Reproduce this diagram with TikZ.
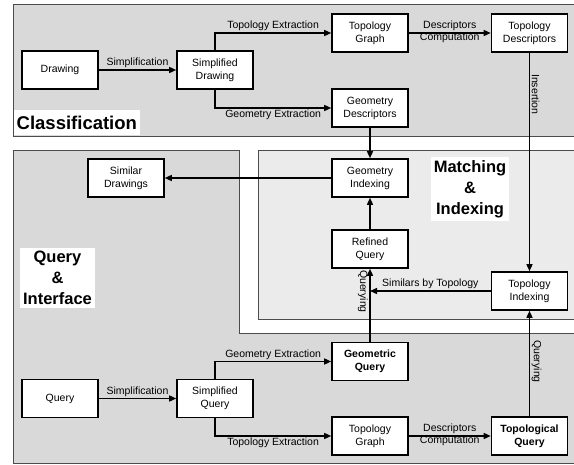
\documentclass[tikz,border=0pt]{standalone}
\usepackage{fontspec}
\setmainfont{Liberation Sans}
\usetikzlibrary{arrows.meta}

\definecolor{panelgray}{HTML}{D9D9D9}
\definecolor{matchgray}{HTML}{EBEBEB}

\begin{document}
\begin{tikzpicture}[x=1pt, y=-1pt,
    main/.style = {draw, line width=1.6pt, fill=white, minimum width=76pt, minimum height=38pt, inner sep=1pt, align=center, font=\fontsize{10.5}{13}\selectfont},
    strong/.style = {main, font=\fontsize{10.5}{13}\selectfont\bfseries},
    link/.style = {line width=1.4pt, -{Triangle[length=7pt,width=6pt]}},
    lab/.style = {inner sep=1.5pt, font=\fontsize{10.5}{12}\selectfont},
    title/.style = {fill=white, inner sep=3pt, align=center, font=\fontsize{16.5}{21}\selectfont\bfseries},
    panel/.style = {draw=black!70, line width=0.8pt}]

    \useasboundingbox (0,0) rectangle (574,465);

    \draw[panel, fill=panelgray] (13,4) rectangle (590,136);
    \draw[panel, fill=panelgray] (13,150) rectangle (590,463);
    \fill[white] (239,149) rectangle (590,333);
    \draw[panel] (239,150) -- (239,333) -- (590,333);
    \draw[panel, fill=matchgray] (258,150) rectangle (590,319);

    \node[title, font=\fontsize{18.5}{21}\selectfont\bfseries, minimum height=25pt, anchor=south west] (cls) at (13.5,135.5) {Classification};
    \node[title] (qif) at (57.5,278) {Query\\\&\\Interface};
    \node[title] (mix) at (470,189) {Matching\\\&\\Indexing};

    \node[main] (drw) at (60,70) {Drawing};
    \node[main] (sdrw) at (215,70) {Simplified\\Drawing};
    \node[main] (tgr) at (370,33) {Topology\\Graph};
    \node[main] (tdesc) at (529.5,33) {Topology\\Descriptors};
    \node[main] (gdesc) at (370,108) {Geometry\\Descriptors};

    \node[main] (simd) at (126,178) {Similar\\Drawings};
    \node[main] (gidx) at (370,178) {Geometry\\Indexing};
    \node[main] (rq) at (370,249) {Refined\\Query};
    \node[main] (tidx) at (529.5,291) {Topology\\Indexing};

    \node[main] (qry) at (60,398.5) {Query};
    \node[main] (sqry) at (215,398.5) {Simplified\\Query};
    \node[strong] (gq) at (370,361.5) {Geometric\\Query};
    \node[main] (tgr2) at (370,436) {Topology\\Graph};
    \node[strong] (tq) at (529.5,436) {Topological\\Query};

    \draw[link] (drw) -- node[lab, above] {Simplification} (sdrw);
    \draw[link] (sdrw.north) |- node[lab, above, pos=0.75] {Topology Extraction} (tgr);
    \draw[link] (sdrw.south) |- node[lab, below, pos=0.75] {Geometry Extraction} (gdesc);
    \draw[link] (tgr) -- node[lab, align=center, yshift=1.5pt] {Descriptors\\Computation} (tdesc);
    \draw[link] (tdesc) -- node[lab, rotate=-90, anchor=south, pos=0.19] {Insertion} (tidx);

    \draw[link] (gdesc) -- (gidx);
    \draw[link] (gidx) -- (simd);
    \draw[link] (rq) -- (gidx);
    \draw[link] (gq) -- node[lab, rotate=-90, anchor=north, pos=0.69] {Querying} (rq);
    \draw[link] (tidx) -- node[lab, above] {Similars by Topology} (tidx -| rq);
    \draw[link] (tq) -- node[lab, rotate=-90, anchor=south, pos=0.52] {Querying} (tidx);

    \draw[link] (qry) -- node[lab, above] {Simplification} (sqry);
    \draw[link] (sqry.north) |- node[lab, above, pos=0.75] {Geometry Extraction} (gq);
    \draw[link] (sqry.south) |- node[lab, below, pos=0.75] {Topology Extraction} (tgr2);
    \draw[link] (tgr2) -- node[lab, align=center, yshift=1.5pt] {Descriptors\\Computation} (tq);

\end{tikzpicture}
\end{document}
